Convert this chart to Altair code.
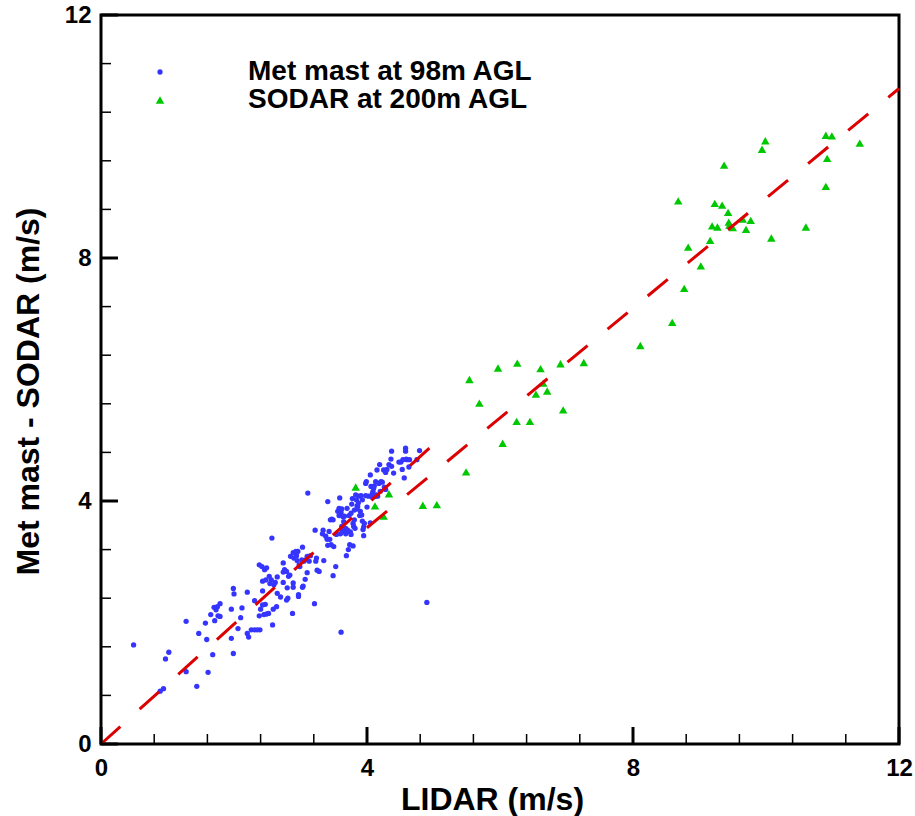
import altair as alt
import pandas as pd

# ---------------- data ----------------
series_names = ["Met mast at 98m AGL", "SODAR at 200m AGL"]

met_x = [0.49, 0.97, 1.02, 0.89, 0.94, 1.28, 1.28, 1.44, 1.47, 1.57,
         1.59, 1.61, 1.65, 1.68, 1.71, 1.70, 1.73, 1.75, 1.76, 1.79,
         1.79, 1.96, 1.96, 1.99, 1.99, 2.00, 2.06, 2.10, 2.12, 2.20,
         2.20, 2.22, 2.26, 2.31, 2.35, 2.39, 2.31, 2.38, 2.38, 2.40,
         2.42, 2.43, 2.43, 2.43, 2.45, 2.46, 2.47, 2.48, 2.49, 2.49,
         2.52, 2.53, 2.54, 2.56, 2.57, 2.58, 2.59, 2.60, 2.62, 2.64,
         2.65, 2.65, 2.70, 2.74, 2.74, 2.74, 2.76, 2.79, 2.79, 2.80,
         2.81, 2.82, 2.84, 2.85, 2.88, 2.89, 2.89, 2.89, 2.90, 2.93,
         2.94, 2.95, 2.96, 2.97, 2.97, 2.98, 2.99, 3.02, 3.03, 3.03,
         3.04, 3.05, 3.07, 3.09, 3.10, 3.10, 3.11, 3.13, 3.15, 3.21,
         3.22, 3.23, 3.24, 3.25, 3.28, 3.33, 3.34, 3.35, 3.38, 3.40,
         3.41, 3.41, 3.43, 3.44, 3.45, 3.46, 3.47, 3.49, 3.49, 3.50,
         3.53, 3.54, 3.56, 3.58, 3.58, 3.59, 3.59, 3.60, 3.61, 3.62,
         3.62, 3.63, 3.64, 3.65, 3.66, 3.67, 3.68, 3.68, 3.69, 3.70,
         3.71, 3.72, 3.73, 3.74, 3.75, 3.76, 3.76, 3.77, 3.78, 3.79,
         3.79, 3.80, 3.81, 3.81, 3.82, 3.83, 3.84, 3.85, 3.85, 3.86,
         3.87, 3.88, 3.89, 3.90, 3.91, 3.92, 3.93, 3.93, 3.94, 3.95,
         3.95, 3.96, 3.98, 3.98, 3.99, 4.00, 4.02, 4.05, 4.06, 4.07,
         4.08, 4.09, 4.10, 4.11, 4.13, 4.13, 4.14, 4.15, 4.16, 4.18,
         4.19, 4.20, 4.21, 4.23, 4.25, 4.26, 4.28, 4.28, 4.30, 4.33,
         4.36, 4.37, 4.37, 4.40, 4.48, 4.51, 4.53, 4.54, 4.56, 4.58,
         4.58, 4.59, 4.60, 4.63, 4.64, 4.75, 4.79, 4.90, 3.61, 4.05]

met_y = [1.63, 1.40, 1.51, 0.87, 0.91, 2.02, 1.19, 0.95, 1.82, 1.99,
         1.72, 1.18, 2.13, 1.47, 2.03, 2.25, 2.21, 2.26, 2.11, 2.10,
         2.31, 1.74, 2.22, 1.49, 2.56, 2.47, 1.90, 2.08, 2.24, 2.50,
         1.82, 1.76, 1.88, 1.88, 1.88, 1.88, 2.36, 2.11, 2.95, 2.22,
         2.92, 2.52, 2.68, 2.29, 2.13, 2.87, 2.30, 2.70, 2.90, 2.14,
         2.15, 2.76, 2.64, 2.70, 3.39, 1.96, 2.22, 2.62, 2.66, 2.26,
         2.48, 2.75, 2.42, 2.98, 2.66, 2.83, 2.87, 2.84, 2.37, 2.57,
         2.40, 2.76, 2.78, 3.09, 2.15, 2.65, 3.15, 2.58, 3.06, 3.17,
         3.10, 3.02, 3.17, 2.46, 2.43, 2.95, 2.92, 3.03, 3.24, 2.58,
         2.60, 3.01, 2.71, 3.04, 3.09, 2.82, 4.13, 3.01, 3.10, 2.31,
         3.52, 3.01, 3.06, 2.86, 2.84, 3.46, 3.52, 3.02, 3.42, 3.37,
         3.99, 3.27, 3.50, 3.37, 3.69, 3.28, 3.70, 3.69, 2.77, 3.25,
         2.92, 3.45, 3.83, 3.76, 3.88, 4.05, 3.86, 3.46, 3.81, 3.87,
         3.58, 3.50, 3.74, 3.66, 3.75, 3.50, 3.55, 3.46, 3.10, 3.88,
         3.52, 3.20, 3.76, 3.28, 3.49, 3.45, 3.80, 3.95, 4.04, 3.63,
         3.26, 3.58, 3.69, 3.85, 3.55, 4.10, 4.02, 3.92, 3.87, 3.91,
         3.97, 4.08, 3.76, 3.83, 4.09, 3.77, 3.67, 4.02, 3.53, 3.57,
         3.43, 3.63, 4.09, 4.29, 4.32, 3.90, 4.08, 4.43, 4.24, 4.07,
         4.12, 4.16, 4.21, 4.25, 4.32, 4.08, 4.10, 4.51, 4.08, 4.29,
         4.60, 4.16, 4.32, 4.31, 4.51, 4.23, 4.19, 4.47, 4.52, 4.60,
         4.69, 4.57, 4.82, 4.46, 4.64, 4.64, 4.52, 4.68, 4.38, 4.87,
         4.82, 4.69, 4.68, 4.56, 4.68, 4.68, 4.83, 2.33, 1.84, 3.64]

sodar_x = [3.83, 4.12, 4.25, 4.33, 4.84, 5.05, 5.49, 5.54, 5.69, 5.97,
           6.04, 6.25, 6.26, 6.45, 6.54, 6.61, 6.65, 6.71, 6.91, 6.95,
           7.26, 8.11, 8.59, 8.68, 8.77, 8.83, 9.02, 9.16, 9.19, 9.23,
           9.27, 9.34, 9.37, 9.43, 9.44, 9.45, 9.50, 9.65, 9.70, 9.77,
           9.94, 9.99, 10.08, 10.60, 10.90, 10.99, 10.92, 10.90, 11.41]

sodar_y = [4.23, 3.92, 3.75, 4.12, 3.93, 3.94, 4.48, 6.00, 5.61, 6.19,
           4.95, 5.31, 6.27, 5.31, 5.76, 6.18, 5.94, 5.81, 6.26, 5.50,
           6.28, 6.56, 6.94, 8.94, 7.50, 8.18, 7.87, 8.29, 8.53, 8.90,
           8.51, 8.87, 9.53, 8.75, 8.59, 8.54, 8.50, 8.64, 8.47, 8.62,
           9.79, 9.93, 8.33, 8.51, 10.02, 10.01, 9.64, 9.18, 9.89]

# fitted dashed lines (start, end)
fit1_x = [0.0, 5.07]
fit1_y = [0.0, 5.00]
fit2_x = [4.0, 12.0]
fit2_y = [3.56, 10.79]

major_ticks = [0, 4, 8, 12]
minor_ticks = [0.8, 1.6, 2.4, 3.2, 4.8, 5.6, 6.4, 7.2, 8.8, 9.6, 10.4, 11.2]

# ---------------- tables ----------------
pts = pd.concat([
    pd.DataFrame({"x": met_x, "y": met_y, "series": series_names[0]}),
    pd.DataFrame({"x": sodar_x, "y": sodar_y, "series": series_names[1]}),
], ignore_index=True)

fit = pd.DataFrame({
    "x": fit1_x + fit2_x,
    "y": fit1_y + fit2_y,
    "id": ["a", "a", "b", "b"],
})
major_df = pd.DataFrame({"x": major_ticks, "y": major_ticks})
minor_df = pd.DataFrame({"x": minor_ticks, "y": minor_ticks})

W, H = 798, 729
FONT = "Liberation Sans"

xscale = alt.Scale(domain=[0, 12], nice=False, zero=False)
yscale = alt.Scale(domain=[0, 12], nice=False, zero=False)

x_axis = alt.Axis(
    values=major_ticks, format="d", grid=False, domain=False,
    ticks=False, tickSize=0, labelFlush=False, labelOverlap=False,
    labelBaseline="alphabetic", labelPadding=31,
    title="LIDAR (m/s)", titleX=391, titleY=65, titleAlign="center",
    titleBaseline="alphabetic",
)
y_axis = alt.Axis(
    values=major_ticks, format="d", grid=False, domain=False,
    ticks=False, tickSize=0, labelFlush=False, labelOverlap=False,
    labelPadding=10,
    title="Met mast - SODAR (m/s)", titleX=-63, titleY=376,
    titleAlign="center", titleBaseline="alphabetic", titleAngle=270,
)

X = alt.X("x:Q", scale=xscale, axis=x_axis)
Y = alt.Y("y:Q", scale=yscale, axis=y_axis)

legend_kw = dict(title=None, orient="none", legendX=45, legendY=43)

points = alt.Chart(pts).mark_point(filled=True, opacity=1, strokeWidth=0).encode(
    x=X, y=Y,
    color=alt.Color("series:N", scale=alt.Scale(domain=series_names, range=["#3535ff", "#00c800"]),
                    legend=alt.Legend(**legend_kw)),
    shape=alt.Shape("series:N", scale=alt.Scale(domain=series_names, range=["circle", "triangle-up"]),
                    legend=alt.Legend(**legend_kw)),
    size=alt.Size("series:N", scale=alt.Scale(domain=series_names, range=[28, 72]),
                  legend=alt.Legend(**legend_kw)),
)

lines = alt.Chart(fit).mark_line(color="#dd0000", strokeWidth=3, strokeDash=[26, 26]).encode(
    x=X, y=Y, detail="id:N",
)

x_major = alt.Chart(major_df).mark_rule(color="black", strokeWidth=3).encode(
    x=X, y=alt.value(H), y2=alt.value(H - 17))
x_minor = alt.Chart(minor_df).mark_rule(color="black", strokeWidth=1.5).encode(
    x=X, y=alt.value(H), y2=alt.value(H - 10))
y_major = alt.Chart(major_df).mark_rule(color="black", strokeWidth=3).encode(
    y=Y, x=alt.value(0), x2=alt.value(17))
y_minor = alt.Chart(minor_df).mark_rule(color="black", strokeWidth=1.5).encode(
    y=Y, x=alt.value(0), x2=alt.value(10))

chart = alt.layer(points, lines, x_major, x_minor, y_major, y_minor).properties(
    width=W, height=H,
    autosize=alt.AutoSizeParams(type="none"),
    padding={"left": 101, "top": 15, "right": 16, "bottom": 72},
    background="white",
).configure_view(
    stroke="black", strokeWidth=3,
).configure_axis(
    labelFont=FONT, labelFontSize=24, labelFontWeight="bold", labelColor="black",
    titleFont=FONT, titleFontSize=32, titleFontWeight="bold", titleColor="black",
).configure_legend(
    labelFont=FONT, labelFontSize=28, labelFontWeight="bold", labelColor="black",
    labelOffset=74, rowPadding=0, padding=0, labelLimit=500, symbolStrokeWidth=0,
    labelBaseline="middle",
)

chart.save("out.html", embed_options={"renderer": "svg", "actions": False})
